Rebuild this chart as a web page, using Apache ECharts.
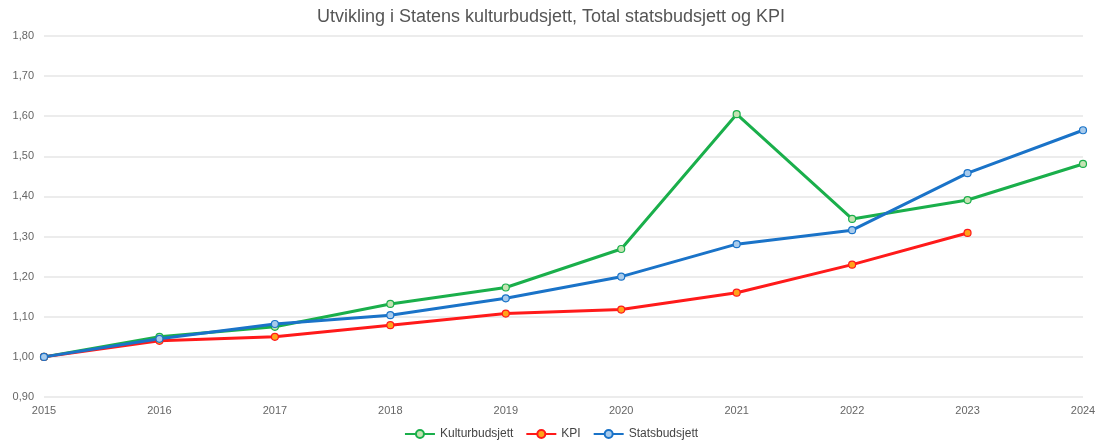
<!DOCTYPE html>
<html><head><meta charset="utf-8">
<script src="https://cdn.jsdelivr.net/npm/echarts@6/dist/echarts.min.js"></script>
<style>html,body{margin:0;padding:0;background:#fff}#c{width:1102px;height:445px}</style>
</head><body><div id="c"></div>
<script>
const years = ['2015','2016','2017','2018','2019','2020','2021','2022','2023','2024'];
const kultur = [1.00, 1.05, 1.075, 1.132, 1.173, 1.269, 1.605, 1.344, 1.391, 1.481];
const kpi = [1.00, 1.04, 1.05, 1.079, 1.108, 1.118, 1.16, 1.23, 1.309, null];
const stats = [1.00, 1.045, 1.082, 1.104, 1.146, 1.20, 1.281, 1.316, 1.458, 1.565];

const font = 'Liberation Sans, Arial, sans-serif';
function s(name, data, color, fill) {
  return {
    name, type: 'line', data, symbol: 'circle', symbolSize: 7, connectNulls: false,
    lineStyle: { color, width: 3 },
    itemStyle: { color: fill, borderColor: color, borderWidth: 1.2 },
    emphasis: { disabled: true }
  };
}
const chart = echarts.init(document.getElementById('c'));
chart.setOption({
  animation: false,
  title: { text: 'Utvikling i Statens kulturbudsjett, Total statsbudsjett og KPI', left: 'center', top: 3,
    textStyle: { fontFamily: font, fontSize: 18, fontWeight: 'normal', color: '#555' } },
  legend: { bottom: 0, left: 'center', itemWidth: 30, itemHeight: 10, itemGap: 12,
    textStyle: { fontFamily: font, fontSize: 12, color: '#444' },
    data: ['Kulturbudsjett', 'KPI', 'Statsbudsjett'] },
  grid: { left: 44, right: 19, top: 36, bottom: 48 },
  xAxis: { type: 'category', data: years, boundaryGap: false,
    axisLine: { show: false }, axisTick: { show: false },
    axisLabel: { fontFamily: font, fontSize: 11, color: '#666', margin: 8 } },
  yAxis: { type: 'value', min: 0.9, max: 1.8, interval: 0.1,
    axisLine: { show: false }, axisTick: { show: false },
    splitLine: { lineStyle: { color: '#e6e6e6', width: 1.5 } },
    axisLabel: { fontFamily: font, fontSize: 11, color: '#666', margin: 10,
      formatter: v => v.toFixed(2).replace('.', ',') } },
  series: [
    s('Kulturbudsjett', kultur, '#1aaf4b', '#c5e3b3'),
    s('KPI', kpi, '#ff1a1a', '#ffa31a'),
    s('Statsbudsjett', stats, '#1a73c8', '#a8cbec')
  ]
});
</script></body></html>
